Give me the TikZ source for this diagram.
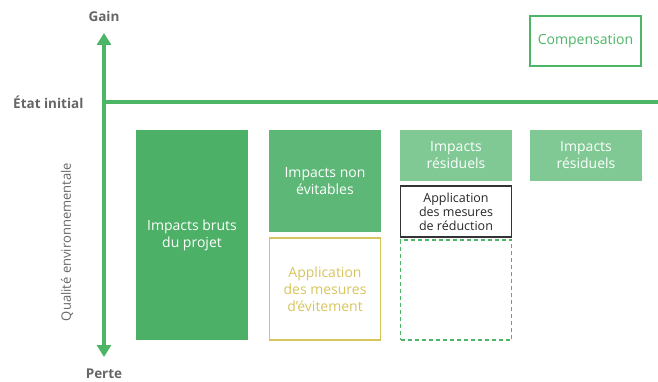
\documentclass[tikz,border=0pt]{standalone}
\usepackage{fontspec}
\setmainfont{Open Sans}
\usetikzlibrary{arrows.meta}
\definecolor{axisgreen}{HTML}{4DB566}
\definecolor{gdark}{HTML}{4CB066}
\definecolor{gmid}{HTML}{5DB878}
\definecolor{glight}{HTML}{80C994}
\definecolor{yel}{HTML}{D6C55C}
\definecolor{txtgray}{HTML}{666666}
\tikzset{
  box/.style={anchor=north west, inner sep=0pt, outer sep=0pt, align=center, font=\fontsize{14}{17}\selectfont},
  filledbox/.style={box, text=white},
  smallbox/.style={box, font=\fontsize{12.5}{14}\selectfont},
  axislabel/.style={text=txtgray, inner sep=0pt, font=\bfseries\fontsize{13.5}{15}\selectfont},
}
\begin{document}
\begin{tikzpicture}[x=1pt,y=-1pt]
\useasboundingbox (0,0) rectangle (658,382);
% axes
\coordinate (top) at (104,33);
\coordinate (bot) at (104,357);
\coordinate (hs) at (104,102);
\coordinate (he) at (658,102);
\draw[axisgreen, line width=4pt, -{Triangle[length=12pt,width=14pt]}] (104,200) -- (top);
\draw[axisgreen, line width=4pt, -{Triangle[length=12pt,width=14pt]}] (104,200) -- (bot);
\draw[axisgreen, line width=4pt] (hs) -- (he);
\node[axislabel] (gain) at (104,16) {Gain};
\node[axislabel] (perte) at (104,374) {Perte};
\node[axislabel, anchor=west] (etat) at (13,102) {État initial};
\node[text=txtgray, rotate=90, font=\fontsize{13}{15}\selectfont] (qual) at (67,242) {Qualité environnementale};
% boxes
\node[filledbox, fill=gdark, minimum width=112pt, minimum height=210pt] (bruts) at (136,130) {Impacts bruts\\du projet};
\node[filledbox, fill=gmid, minimum width=112pt, minimum height=102pt] (nonev) at (269,130) {Impacts non\\évitables};
\node[box, draw=yel, line width=1.5pt, text=yel, minimum width=111pt, minimum height=102pt] (evit) at (269.5,238) {Application\\des mesures\\d’évitement};
\node[filledbox, fill=glight, minimum width=112pt, minimum height=51pt] (resid1) at (400,130) {Impacts\\résiduels};
\node[smallbox, draw=black!80, line width=1.4pt, text=black!85, minimum width=111pt, minimum height=51pt] (reduc) at (400.5,186) {Application\\des mesures\\de réduction};
\node[box, draw=axisgreen, line width=1.2pt, dash pattern=on 4pt off 3pt, minimum width=111pt, minimum height=100pt] (dash) at (400.5,240) {};
\node[filledbox, fill=glight, minimum width=112pt, minimum height=51pt] (resid2) at (530,130) {Impacts\\résiduels};
\node[box, draw=axisgreen, line width=1.3pt, text=axisgreen, minimum width=111pt, minimum height=50pt] (comp) at (530,16) {Compensation};
\end{tikzpicture}
\end{document}
